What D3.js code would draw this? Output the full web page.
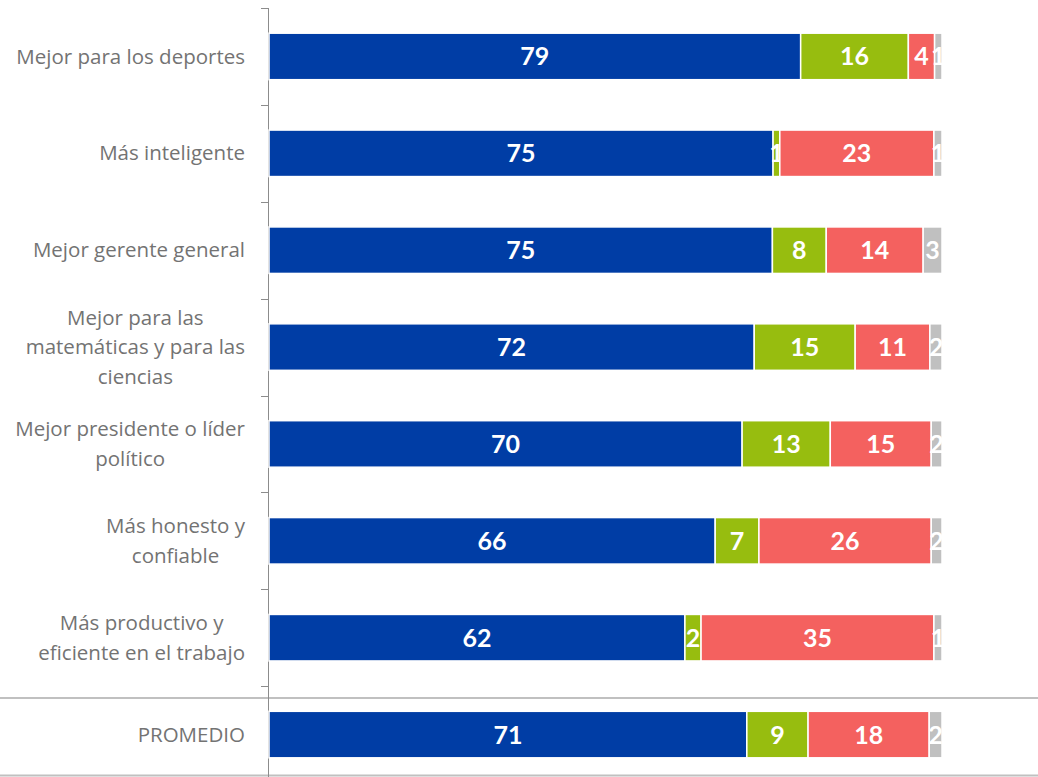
<!DOCTYPE html>
<html>
  <head>
    <meta charset="utf-8">
    <script src="https://d3js.org/d3.v7.min.js"></script>
    <style>
      body { margin: 0; background: #fff; }
    </style>
  </head>
  <body>
  <div id="chart"></div>
  <script>
    var width = 1038, height = 777;

    var categories = [
      "Mejor para los deportes",
      "Más inteligente",
      "Mejor gerente general",
      "Mejor para las|matemáticas y para las|ciencias",
      "Mejor presidente o líder|político",
      "Más honesto y|confiable",
      "Más productivo y|eficiente en el trabajo",
      "PROMEDIO"
    ];
    var serie1 = [79.0, 74.9, 74.8, 72.1, 70.3, 66.3, 61.8, 71.0];
    var serie2 = [16.0, 1.0, 8.0, 15.0, 13.1, 6.5, 2.4, 9.1];
    var serie3 = [3.9, 22.9, 14.4, 11.1, 15.0, 25.6, 34.6, 18.0];
    var serie4 = [1.1, 1.2, 2.8, 1.8, 1.6, 1.6, 1.2, 1.9];
    var colors = ["#003DA5", "#97BD0F", "#F4615F", "#C0C0C0"];

    var series = [serie1, serie2, serie3, serie4];

    var svg = d3.select("#chart").append("svg")
      .attr("width", width)
      .attr("height", height);

    var x = d3.scaleLinear().domain([0, 100]).range([269, 942]);
    var y = d3.scaleBand().domain(d3.range(categories.length))
      .range([8, 783]).paddingInner(0.52).paddingOuter(0.26);

    // separadores
    svg.append("line").attr("x1", 0).attr("x2", width)
      .attr("y1", 698).attr("y2", 698)
      .attr("stroke", "#c0c0c0").attr("stroke-width", 2);
    svg.append("line").attr("x1", 0).attr("x2", width)
      .attr("y1", 775.5).attr("y2", 775.5)
      .attr("stroke", "#c0c0c0").attr("stroke-width", 2);

    // eje
    var tickY = d3.range(categories.length + 1).map(function(i) { return 8 + i * y.step(); });
    svg.append("line").attr("x1", 268.5).attr("x2", 268.5)
      .attr("y1", 8).attr("y2", height)
      .attr("stroke", "#8c8c8c").attr("stroke-width", 1);
    svg.selectAll(".tick").data(tickY).enter().append("line")
      .attr("x1", 261).attr("x2", 268.5)
      .attr("y1", function(d) { return Math.round(d) + 0.5; })
      .attr("y2", function(d) { return Math.round(d) + 0.5; })
      .attr("stroke", "#8c8c8c");

    // barras
    categories.forEach(function(cat, i) {
      var acc = 0;
      var g = svg.append("g");
      series.forEach(function(s, k) {
        var v = s[i];
        var x0 = x(acc), x1 = x(acc + v);
        g.append("rect")
          .attr("x", x0).attr("y", y(i))
          .attr("width", x1 - x0).attr("height", y.bandwidth())
          .attr("fill", colors[k])
          .attr("stroke", "#fff").attr("stroke-width", 1.5);
        g.append("text")
          .attr("x", (x0 + x1) / 2)
          .attr("y", y(i) + y.bandwidth() / 2)
          .attr("dy", "0.36em")
          .attr("text-anchor", "middle")
          .attr("fill", "#fff")
          .attr("font-family", "Lato, 'Open Sans', sans-serif")
          .attr("font-weight", "bold")
          .attr("font-size", 25)
          .text(Math.round(v));
        acc += v;
      });

      // etiqueta
      var lines = cat.split("|");
      var lbl = svg.append("g");
      var texts = lines.map(function(l, j) {
        return lbl.append("text")
          .attr("y", y(i) + y.bandwidth() / 2 + (j - (lines.length - 1) / 2) * 29.5)
          .attr("dy", "0.35em")
          .attr("text-anchor", "middle")
          .attr("fill", "#737373")
          .attr("font-family", "'Open Sans', sans-serif")
          .attr("font-size", 20.5)
          .text(l);
      });
      var maxW = d3.max(texts, function(t) { return t.node().getComputedTextLength(); });
      texts.forEach(function(t) { t.attr("x", 245 - maxW / 2); });
    });
  </script>
  </body>
</html>
